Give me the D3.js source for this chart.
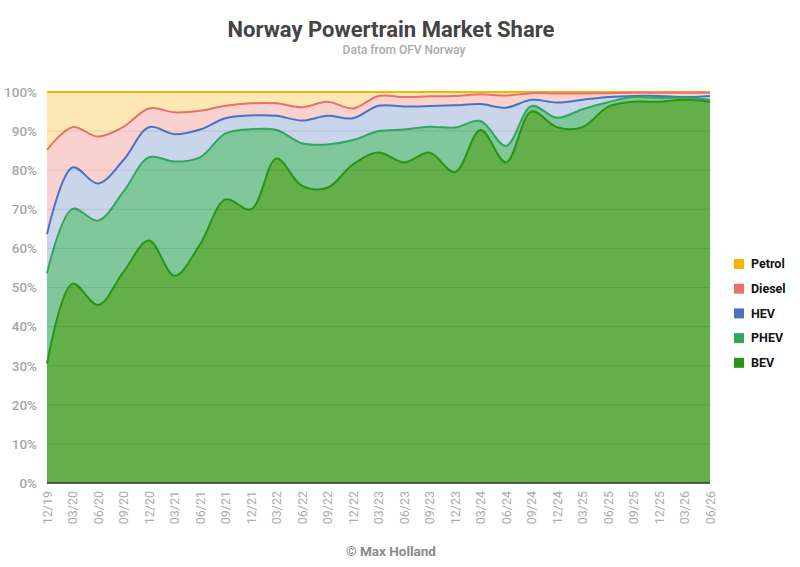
<!DOCTYPE html>
<html><head><meta charset="utf-8">
<script src="https://cdn.jsdelivr.net/npm/d3@7/dist/d3.min.js"></script>
<style>body{margin:0;background:#fff}svg{font-family:Roboto,"Noto Sans",sans-serif}</style>
</head><body><svg id="c" width="800" height="567"></svg>
<script>
const quarters = ["12/19","03/20","06/20","09/20","12/20","03/21","06/21","09/21","12/21","03/22","06/22","09/22","12/22","03/23","06/23","09/23","12/23","03/24","06/24","09/24","12/24","03/25","06/25","09/25","12/25","03/26","06/26"];
const BEV    = [30.5,51,45.5,54,62,53,61,72.5,70,83,76,75.5,81.5,84.5,82,84.5,79.5,90.3,82,95,91,91,96.2,97.5,97.5,98,97.5];
const PHEV   = [23.1,19.1,21.6,20.5,21.3,29.2,22.3,16.9,20.5,7.3,10.9,11.1,6.2,5.5,8.4,6.6,11.4,2.3,4.2,1.4,2.4,4.6,1.2,1.2,1.0,0.5,0.5];
const HEV    = [10.0,10.6,9.5,8.1,7.7,7.0,7.1,3.9,3.5,3.6,5.8,7.3,5.6,6.5,5.9,5.3,5.7,4.3,9.8,1.6,3.9,2.4,1.3,0.3,0.5,0.2,1.0];
const Diesel = [21.6,10.3,12.0,8.5,4.8,5.6,4.8,3.2,3.1,3.2,3.4,3.6,2.5,2.5,2.4,2.5,2.4,2.5,3.1,1.7,2.3,1.6,1.0,0.8,0.8,1.1,0.8];
const Petrol = [14.8,9,11.4,8.9,4.2,5.2,4.8,3.5,2.9,2.9,3.9,2.5,4.2,1,1.3,1.1,1,0.6,0.9,0.3,0.4,0.4,0.3,0.2,0.2,0.2,0.2];
const yTicks = [0,10,20,30,40,50,60,70,80,90,100];

const seriesNames = ["BEV","PHEV","HEV","Diesel","Petrol"];
const seriesData = {BEV,PHEV,HEV,Diesel,Petrol};
const lineCol = {Petrol:"#f5b400",Diesel:"#e8716a",HEV:"#4a72c0",PHEV:"#33a760",BEV:"#2a9414"};
const fillCol = {Petrol:"#fde8b3",Diesel:"#f9d2d0",HEV:"#c9d5ea",PHEV:"#80c89b",BEV:"#63b04a"};

const table = quarters.map((q,i)=>{const o={q}; seriesNames.forEach(s=>o[s]=seriesData[s][i]); return o;});
const stack = d3.stack().keys(seriesNames)(table);

const svg = d3.select("#c");
const L=47,R=710,T=92,B=483;
const x = d3.scalePoint().domain(quarters).range([L,R]);
const y = d3.scaleLinear().domain([0,100]).range([B,T]);
const curve = d3.curveCatmullRom.alpha(0.5);

const area = d3.area().x(d=>x(d.data.q)).y0(d=>y(d[0])).y1(d=>y(Math.min(100,d[1]))).curve(curve);
const line = d3.line().x(d=>x(d.data.q)).y(d=>y(Math.min(100,d[1]))).curve(curve);

const g = svg.append("g");
g.selectAll("path.a").data(stack).join("path").attr("class","a")
 .attr("d",area).attr("fill",d=>fillCol[d.key]);
svg.append("g").selectAll("line").data(yTicks.filter(t=>t>0&&t<100)).join("line")
 .attr("x1",L).attr("x2",R).attr("y1",d=>y(d)).attr("y2",d=>y(d))
 .attr("stroke","#000").attr("stroke-opacity",0.09).attr("stroke-width",1);
g.selectAll("path.l").data(stack.slice().reverse()).join("path").attr("class","l")
 .attr("d",line).attr("fill","none").attr("stroke",d=>lineCol[d.key]).attr("stroke-width",2);
svg.append("line").attr("x1",L).attr("x2",R).attr("y1",y(0)).attr("y2",y(0)).attr("stroke","#333").attr("stroke-width",1.5);

const ya = svg.append("g").attr("transform",`translate(${L-7},0)`)
 .call(d3.axisLeft(y).tickValues(yTicks).tickFormat(d=>d+"%").tickSize(0));
ya.select(".domain").remove();
ya.selectAll("text").attr("fill","#a6a6a6").attr("font-size",13.5).attr("font-weight",500).attr("font-family","Roboto");

const xa = svg.append("g").attr("transform",`translate(0,${B+6})`)
 .call(d3.axisBottom(x).tickSize(0));
xa.select(".domain").remove();
xa.selectAll("text").attr("fill","#ababab").attr("font-size",12.5).attr("font-family","Roboto")
 .attr("text-anchor","end").attr("dy","0.35em").attr("dx",0)
 .attr("transform","rotate(-90)").attr("x",-2).attr("y",0);

svg.append("text").attr("x",391).attr("y",37).attr("text-anchor","middle")
 .attr("font-size",22).attr("font-weight",700).attr("fill","#444").text("Norway Powertrain Market Share");
svg.append("text").attr("x",404).attr("y",54).attr("text-anchor","middle")
 .attr("font-size",12).attr("font-weight",500).attr("fill","#aaa").text("Data from OFV Norway");
svg.append("text").attr("x",391).attr("y",556).attr("text-anchor","middle")
 .attr("font-size",13.5).attr("font-weight",700).attr("fill","#8a8a8a").text("© Max Holland");

const legOrder = ["Petrol","Diesel","HEV","PHEV","BEV"];
const lg = svg.append("g").selectAll("g").data(legOrder).join("g")
 .attr("transform",(d,i)=>`translate(734,${264+i*24.7})`);
lg.append("rect").attr("x",0).attr("y",-5).attr("width",10).attr("height",10).attr("fill",d=>lineCol[d]);
lg.append("text").attr("x",17).attr("y",0).attr("dy","0.35em").attr("font-size",12.5).attr("font-weight",700).attr("fill","#111").text(d=>d);
</script></body></html>
